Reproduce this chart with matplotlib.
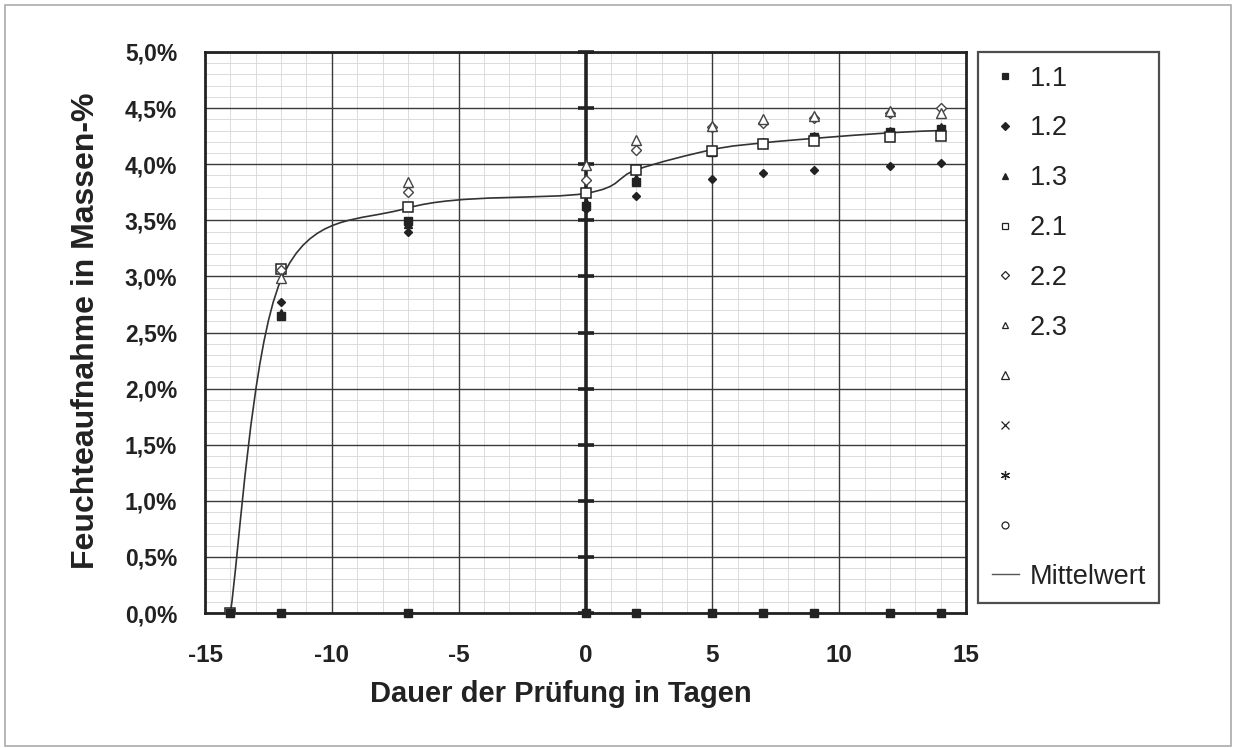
"""
Feuchteaufnahme in Massen-% ueber die Dauer der Pruefung, mit geglaettetem Mittelwert.
"""

import matplotlib
matplotlib.use('Agg')
import matplotlib.pyplot as plt
from matplotlib.lines import Line2D
from matplotlib.path import Path
from matplotlib.patches import PathPatch, Rectangle
from matplotlib.ticker import MultipleLocator

# Pruefzeitpunkte in Tagen
days = [-14, -12, -7, 0, 2, 5, 7, 9, 12, 14]

# Feuchteaufnahme in Massen-% je Probe
probe_11 = [0.0, 2.65, 3.49, 3.63, 3.84, 4.11, 4.19, 4.24, 4.29, 4.31]
probe_12 = [0.0, 2.77, 3.40, 3.60, 3.72, 3.87, 3.92, 3.95, 3.98, 4.01]
probe_13 = [0.0, 2.67, 3.47, 3.66, 3.88, 4.13, 4.20, 4.25, 4.30, 4.33]
probe_21 = [0.0, 3.07, 3.62, 3.74, 3.95, 4.12, 4.18, 4.21, 4.24, 4.25]
probe_22 = [0.0, 3.06, 3.75, 3.86, 4.13, 4.33, 4.37, 4.41, 4.46, 4.50]
probe_23 = [0.0, 2.99, 3.84, 3.99, 4.22, 4.34, 4.40, 4.43, 4.47, 4.46]
mittelwert = [0.0, 2.97, 3.61, 3.74, 3.95, 4.13, 4.19, 4.23, 4.28, 4.30]
nullwerte = [0.0, 0.0, 0.0, 0.0, 0.0, 0.0, 0.0, 0.0, 0.0, 0.0]

x_ticks = [-15, -10, -5, 0, 5, 10, 15]
x_labels = ['-15', '-10', '-5', '0', '5', '10', '15']
x_major_grid = [-10, -5, 5, 10]
y_ticks = [0.0, 0.5, 1.0, 1.5, 2.0, 2.5, 3.0, 3.5, 4.0, 4.5, 5.0]
y_labels = [f'{v:.1f}%'.replace('.', ',') for v in y_ticks]

DARK = '#222222'
FONT = ['Liberation Sans', 'DejaVu Sans']


def smooth_path(xs, ys):
    """Bezier-Glaettung wie in der Tabellenkalkulation (Catmull-Rom, 1/6)."""
    pts = list(zip(xs, ys))
    n = len(pts)
    verts = [pts[0]]
    codes = [Path.MOVETO]
    for i in range(n - 1):
        p0 = pts[max(i - 1, 0)]
        p1 = pts[i]
        p2 = pts[i + 1]
        p3 = pts[min(i + 2, n - 1)]
        c1 = (p1[0] + (p2[0] - p0[0]) / 6, p1[1] + (p2[1] - p0[1]) / 6)
        c2 = (p2[0] - (p3[0] - p1[0]) / 6, p2[1] - (p3[1] - p1[1]) / 6)
        verts += [c1, c2, p2]
        codes += [Path.CURVE4] * 3
    return Path(verts, codes)


fig = plt.figure(figsize=(12.33, 7.48), dpi=100)
ax = fig.add_axes([205 / 1233, 1 - 613 / 748, 761 / 1233, 561 / 748])

# Gitternetz: Hilfslinien hell, Hauptlinien dunkel darueber
ax.set_xlim(-15, 15)
ax.set_ylim(0, 5)
ax.xaxis.set_minor_locator(MultipleLocator(1))
ax.yaxis.set_minor_locator(MultipleLocator(0.1))
ax.grid(which='minor', color='#d6d6d6', linewidth=0.6)
ax.set_axisbelow(True)
ax.tick_params(which='both', length=0)
for xv in x_major_grid:
    ax.axvline(xv, color='#3a3a3a', linewidth=1.0, zorder=1)
for yv in y_ticks:
    ax.axhline(yv, color='#3a3a3a', linewidth=1.0, zorder=1)

# Y-Achse bei x = 0 mit Kreuz-Teilstrichen
ax.axvline(0, color=DARK, linewidth=2.6, zorder=2)
ax.plot([0] * len(y_ticks), y_ticks, linestyle='None', marker='_',
        markersize=12, markeredgewidth=2.6, color=DARK, zorder=2, clip_on=False)

for side in ax.spines.values():
    side.set_linewidth(2.0)
    side.set_color(DARK)

# Mittelwert als geglaettete Linie
ax.add_patch(PathPatch(smooth_path(days, mittelwert), fill=False,
                       edgecolor='#333333', linewidth=1.2, zorder=3))

# Messwerte
ax.plot(days, probe_11, linestyle='None', marker='s', markersize=5.5,
        color=DARK, zorder=4)
ax.plot(days, probe_12, linestyle='None', marker='D', markersize=4.2,
        color=DARK, zorder=4)
ax.plot(days, probe_13, linestyle='None', marker='^', markersize=5.5,
        color=DARK, zorder=4)
ax.plot(days, probe_21, linestyle='None', marker='s', markersize=6.5,
        markerfacecolor='white', markeredgecolor=DARK, markeredgewidth=1.1, zorder=5)
ax.plot(days, probe_22, linestyle='None', marker='D', markersize=4.8,
        markerfacecolor='white', markeredgecolor='#444444', markeredgewidth=1.0, zorder=5)
ax.plot(days, probe_23, linestyle='None', marker='^', markersize=6.5,
        markerfacecolor='white', markeredgecolor='#444444', markeredgewidth=1.0, zorder=5)
ax.plot(days, nullwerte, linestyle='None', marker='s', markersize=5.5,
        color=DARK, zorder=6, clip_on=False)

# Achsenbeschriftung
ax.set_xticks(x_ticks)
ax.set_xticklabels(x_labels, family=FONT, fontweight='bold', fontsize=17.5, color=DARK)
ax.set_yticks(y_ticks)
ax.set_yticklabels(y_labels, family=FONT, fontweight='bold', fontsize=16.5, color=DARK)
ax.tick_params(axis='x', pad=22)
ax.tick_params(axis='y', pad=20)

ax.set_xlabel('Dauer der Prüfung in Tagen', family=FONT, fontweight='bold',
              fontsize=21, color=DARK)
ax.xaxis.set_label_coords(0.468, -0.12)
ax.set_ylabel('Feuchteaufnahme in Massen-%', family=FONT, fontweight='bold',
              fontsize=23, color=DARK)
ax.yaxis.set_label_coords(-0.137, 0.504)


# Legende
def handle(marker, size, face, edge=DARK, ls='None'):
    return Line2D([], [], linestyle=ls, marker=marker, markersize=size,
                  markerfacecolor=face, markeredgecolor=edge, color=edge,
                  markeredgewidth=0.9)


handles = [
    handle('s', 5, DARK),
    handle('D', 3.8, DARK),
    handle('^', 5, DARK),
    handle('s', 5, 'white'),
    handle('D', 4, 'white'),
    handle('^', 5, 'white'),
    handle('^', 5.5, 'white'),
    handle('x', 5.5, 'none'),
    handle((6, 2, 0), 6.5, 'none'),
    handle('o', 5, 'white'),
    Line2D([], [], color='#555555', linewidth=1.0),
]
labels = ['1.1', '1.2', '1.3', '2.1', '2.2', '2.3', '', '', '', '', 'Mittelwert']

leg = fig.legend(handles, labels, loc='upper left',
                 bbox_to_anchor=(978 / 1233, 1 - 52 / 748),
                 prop={'family': FONT, 'size': 19.5}, frameon=True,
                 fancybox=False, edgecolor=DARK, handlelength=1.0,
                 handletextpad=0.4, labelspacing=0.88, borderpad=0.5,
                 borderaxespad=0)
leg.get_frame().set_linewidth(1.6)
for t in leg.get_texts():
    t.set_color(DARK)

# aeusserer Rahmen
fig.patches.append(Rectangle((5 / 1233, 2 / 748), 1226 / 1233, 741 / 748,
                             transform=fig.transFigure, fill=False,
                             edgecolor='#aaaaaa', linewidth=1.2))

fig.savefig('out.png', dpi=100)
